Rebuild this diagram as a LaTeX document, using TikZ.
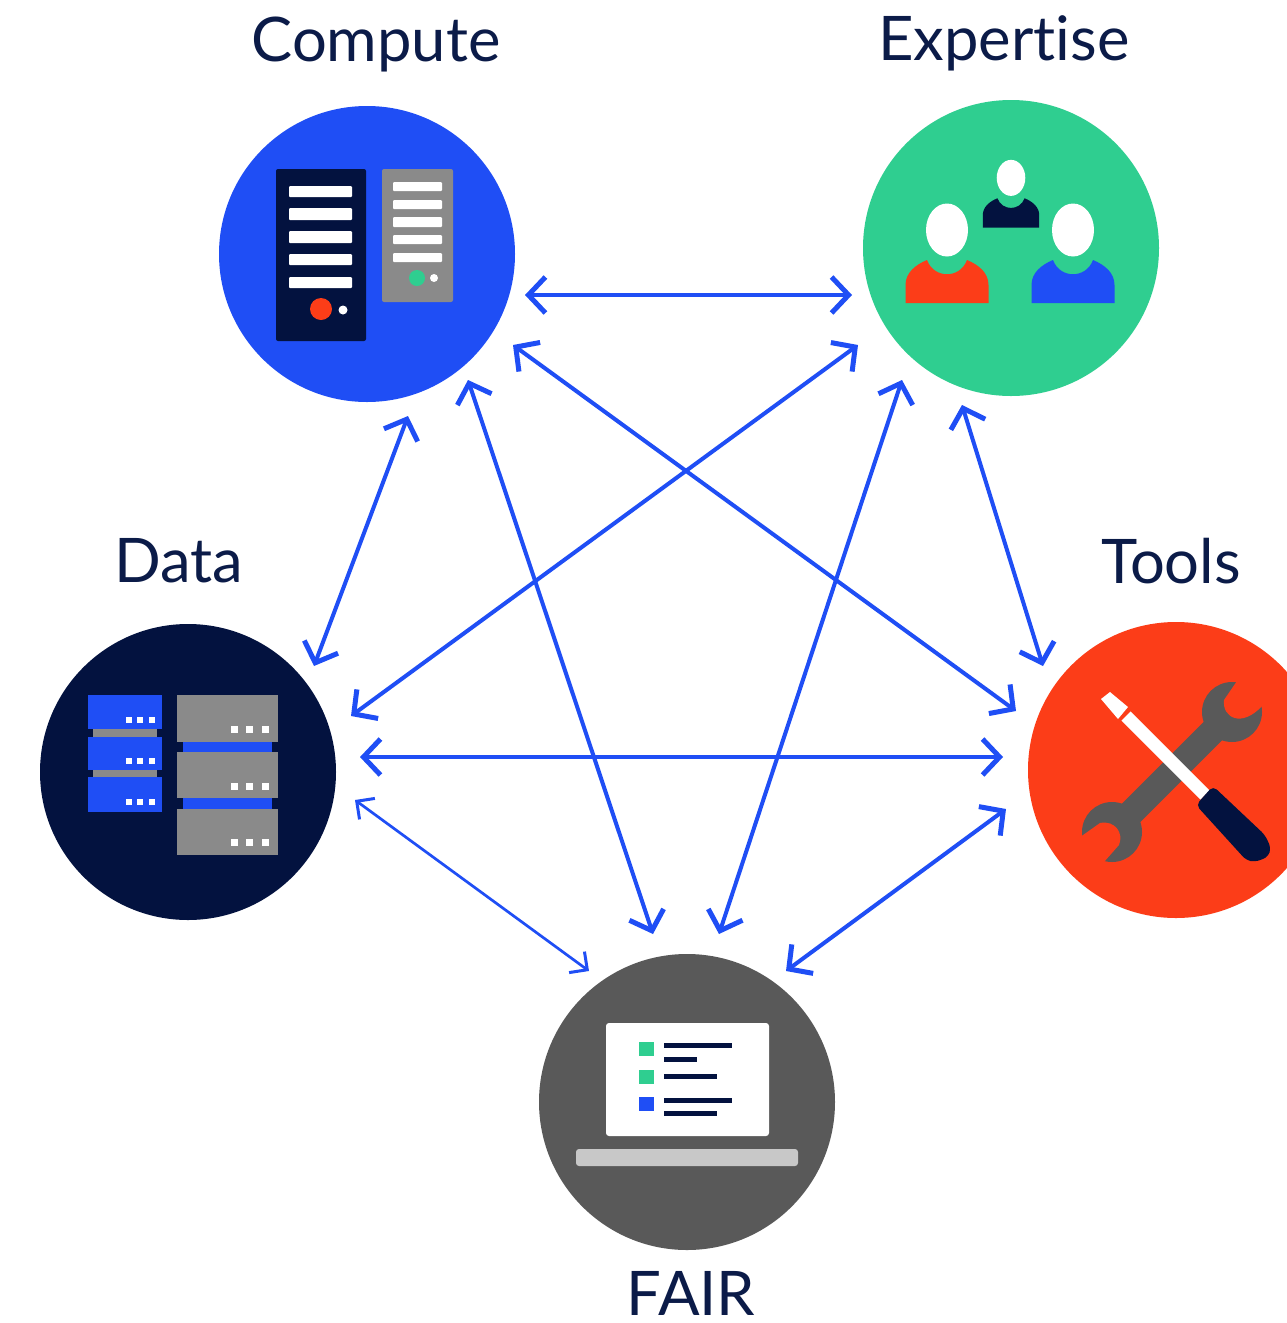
\documentclass[tikz,border=0pt]{standalone}
\usepackage{fontspec}
\setmainfont{Lato}[Ligatures=NoCommon]
\usetikzlibrary{arrows.meta}
\definecolor{cblue}{HTML}{1F4EF5}
\definecolor{cgreen}{HTML}{2FCE90}
\definecolor{cnavy}{HTML}{03123F}
\definecolor{cred}{HTML}{FC3D18}
\definecolor{cdark}{HTML}{595959}
\definecolor{cgrey}{HTML}{8A8A8A}
\definecolor{clight}{HTML}{C8C8C8}
\definecolor{ctext}{HTML}{0B1B48}
\tikzset{
  hub/.style={circle,minimum size=296pt,inner sep=0pt,outer sep=0pt,fill=#1},
  title/.style={text=ctext,font=\fontsize{61.5}{62}\selectfont,inner sep=0pt,anchor=base},
  link/.style={draw=cblue,line width=4pt,{Straight Barb[length=17pt,width=36pt,line width=5pt]}-{Straight Barb[length=17pt,width=36pt,line width=5pt]}},
  thinlink/.style={draw=cblue,line width=2.7pt,{Straight Barb[length=13pt,width=26pt,line width=3pt]}-{Straight Barb[length=13pt,width=26pt,line width=3pt]}},
}
\newcommand{\personicon}[4]{%
  \begin{scope}[shift={(#1,#2)},scale=#3]
    \fill[white] (0,-73) ellipse [x radius=21,y radius=26.5];
    \fill[#4] (-41.5,0) -- (-41.5,-18) .. controls (-41.5,-30) and (-32,-38) .. (-20,-43)
      .. controls (-13,-24) and (13,-24) .. (20,-43)
      .. controls (32,-38) and (41.5,-30) .. (41.5,-18) -- (41.5,0) -- cycle;
  \end{scope}}
\begin{document}
\begin{tikzpicture}[x=1pt,y=-1pt]
\clip (0,0) rectangle (1287,1323);
\fill[white] (0,0) rectangle (1287,1323);
% hubs
\node[hub=cblue] (compute) at (367,254) {};
\node[hub=cgreen] (expertise) at (1011,248) {};
\node[hub=cnavy] (data) at (188,772) {};
\node[hub=cred] (tools) at (1176,770) {};
\node[hub=cdark] (fair) at (687,1102) {};
% labels
\node[title] (tcompute) at (376,61) {Compute};
\node[title] (texpertise) at (1004,60) {Expertise};
\node[title] (tdata) at (179,582) {Data};
\node[title] (ttools) at (1171,583) {Tools};
\node[title] (tfair) at (691,1315) {FAIR};
% connectors
\draw[link] ([shift={(158,41)}]compute.center) -- ([shift={(-159,47)}]expertise.center);
\draw[link] ([shift={(146,91)}]compute.center) -- ([shift={(-160,-59)}]tools.center);
\draw[link] ([shift={(101,126)}]compute.center) -- ([shift={(-34,-168)}]fair.center);
\draw[link] ([shift={(41,162)}]compute.center) -- ([shift={(126,-106)}]data.center);
\draw[link] ([shift={(-153,97)}]expertise.center) -- ([shift={(163,-56)}]data.center);
\draw[link] ([shift={(-109,132)}]expertise.center) -- ([shift={(32,-168)}]fair.center);
\draw[link] ([shift={(-49,157)}]expertise.center) -- ([shift={(-133,-104)}]tools.center);
\draw[link] ([shift={(172,-15)}]data.center) -- ([shift={(-173,-13)}]tools.center);
\draw[thinlink] ([shift={(167,28)}]data.center) -- ([shift={(-98,-131)}]fair.center);
\draw[link] ([shift={(-170,39)}]tools.center) -- ([shift={(99,-131)}]fair.center);
% compute icon
\fill[cnavy,rounded corners=2pt] (276,169) rectangle (366,341);
\foreach \a/\b in {186/197,208/220,231/243,254/265,277/288}
  \fill[white,rounded corners=1pt] (289,\a) rectangle (352,\b);
\fill[cred] (321,309) circle (11);
\fill[white] (343,310) circle (4.5);
\fill[cgrey,rounded corners=2pt] (382,169) rectangle (453,302);
\foreach \a/\b in {182/191,200/209,217/227,235/244,253/262}
  \fill[white,rounded corners=1pt] (393,\a) rectangle (442,\b);
\fill[cgreen] (417,278) circle (8);
\fill[white] (434,278) circle (4);
% expertise icon
\personicon{947}{303}{1}{cred}
\personicon{1073}{303}{1}{cblue}
\personicon{1011}{227.5}{0.68}{cnavy}
% data icon
\fill[cgrey] (93,729) rectangle (157,737);
\fill[cgrey] (93,770) rectangle (157,777);
\foreach \a/\b in {695/729,737/770,777/812}
  \fill[cblue] (88,\a) rectangle (162,\b);
\foreach \y in {720,761,802}
  \foreach \x in {129,140,152}
    \fill[white] (\x-3,\y-3) rectangle (\x+3,\y+3);
\fill[cblue] (183,742) rectangle (272,752);
\fill[cblue] (183,798) rectangle (272,809);
\foreach \a/\b in {695/742,752/798,809/855}
  \fill[cgrey] (177,\a) rectangle (278,\b);
\foreach \y in {729,786,842}
  \foreach \x in {234,249,265}
    \fill[white] (\x-3.5,\y-3.5) rectangle (\x+3.5,\y+3.5);
% tools icon
\draw[cdark,line width=26pt] (1112,832) -- (1232,712);
\fill[cdark] (1232,712) circle (30);
\fill[cdark] (1112,832) circle (30);
\fill[cred] (1239,678) -- (1224,700) .. controls (1222,718) and (1242,728) .. (1262,706) -- (1272,692) -- cycle;
\fill[cred] (1076,840) -- (1100,823) .. controls (1115,820) and (1124,833) .. (1119,845) -- (1104,862) -- (1088,872) -- cycle;
\fill[white] (1101,699) -- (1110,692) -- (1128,707) -- (1118,719) -- cycle;
\draw[white,line width=13pt] (1126,716) -- (1205,795);
\fill[cnavy,rounded corners=5pt] (1196,805) -- (1213,786) -- (1265,835) -- (1271,848) -- (1268,857) -- (1255,862) -- (1246,860) -- cycle;
% fair icon
\fill[white,rounded corners=3pt] (606,1023) rectangle (769,1136);
\fill[clight,rounded corners=3pt] (576,1149) rectangle (798,1166);
\fill[cgreen] (639,1042) rectangle (654,1056);
\fill[cgreen] (639,1070) rectangle (654,1084);
\fill[cblue] (639,1097) rectangle (654,1111);
\foreach \y/\e in {1045/732,1059/697,1076/717,1100/732,1113/717}
  \fill[cnavy] (664,\y-2.5) rectangle (\e,\y+2.5);
\end{tikzpicture}
\end{document}
